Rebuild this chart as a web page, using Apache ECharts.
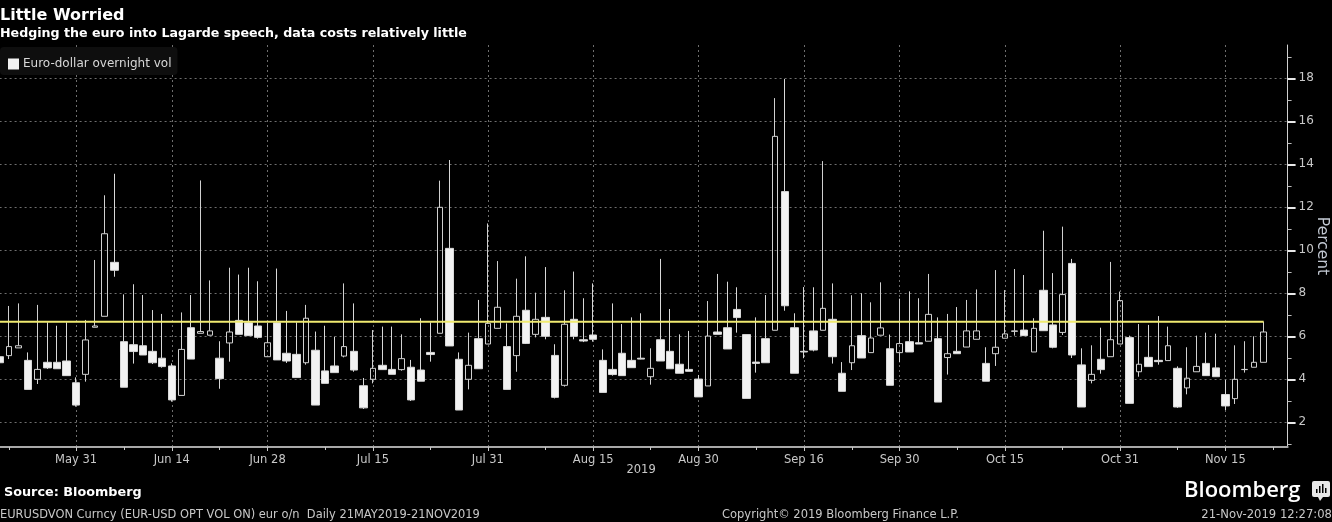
<!DOCTYPE html>
<html><head><meta charset="utf-8">
<style>html,body{margin:0;padding:0;background:#000;overflow:hidden}#c{width:1332px;height:522px}</style>
<script src="https://cdn.jsdelivr.net/npm/echarts@6/dist/echarts.min.js"></script>
</head><body><div id="c"></div>
<script>
const seriesName = 'Euro-dollar overnight vol';
const opens = [
5.05,5.10,5.46,4.88,4.00,4.79,4.79,4.85,3.84,4.23,
6.42,6.93,9.44,5.75,5.61,5.56,5.30,4.98,4.62,3.25,
6.40,6.14,6.05,4.98,5.69,6.74,6.63,6.48,5.05,6.63,
5.21,5.16,4.77,5.35,4.39,4.62,5.08,5.30,3.70,4.00,
4.65,4.46,4.45,4.56,4.43,5.25,6.14,10.09,4.93,4.00,
5.89,5.64,6.37,5.52,5.10,7.21,6.09,6.88,5.11,3.72,
6.79,5.84,6.06,4.88,4.46,5.21,4.88,4.98,4.12,5.84,
5.30,4.70,4.46,4.01,3.69,6.20,6.40,7.25,6.08,4.80,
5.89,6.28,12.73,6.40,5.30,6.25,6.28,6.79,4.28,4.77,
6.03,5.24,6.05,5.42,5.24,5.75,5.70,5.77,5.89,5.01,
5.30,5.50,5.86,4.74,5.19,5.91,6.23,6.29,5.27,8.14,
6.53,6.18,9.39,4.67,3.95,4.93,5.05,5.64,5.94,4.35,
5.02,4.88,4.87,4.51,3.60,4.35,4.74,4.53,3.29,3.10,
4.45,4.56,4.79];
const closes = [
4.77,5.52,5.56,3.53,4.46,4.53,4.49,4.17,2.80,5.83,
6.48,10.77,9.07,3.63,5.29,5.13,4.77,4.59,3.04,5.39,
4.94,6.22,6.25,4.03,6.20,6.09,6.03,5.95,5.70,4.90,
4.85,4.08,6.84,2.80,3.81,4.31,5.52,4.43,2.67,4.51,
4.45,4.23,4.96,3.04,3.91,5.15,12.00,5.55,2.57,4.65,
4.49,6.60,7.35,3.53,6.93,5.67,6.79,6.00,3.16,6.56,
6.00,5.78,5.86,3.39,4.22,4.17,4.54,4.94,4.51,4.85,
4.49,4.28,4.37,3.18,6.01,6.09,5.41,6.87,3.11,4.74,
4.77,15.30,7.42,4.28,5.27,5.36,7.30,5.05,3.44,5.56,
4.99,5.92,6.39,3.72,5.66,5.27,5.64,7.02,2.94,5.19,
5.19,6.25,6.25,3.91,5.49,6.11,6.25,6.03,6.37,6.26,
5.49,7.94,5.13,2.71,4.23,4.45,5.84,7.66,2.88,4.70,
4.59,4.82,5.56,2.71,4.05,4.60,4.17,4.12,2.76,4.00,
4.46,4.79,6.20];
const highs = [
5.05,7.41,7.53,5.25,7.46,6.65,6.49,6.65,4.09,6.76,
9.55,12.56,13.56,7.95,8.42,7.92,7.22,7.04,4.74,7.11,
7.92,13.25,8.60,5.77,9.19,8.87,9.19,8.56,6.63,9.15,
7.18,6.65,7.46,6.22,6.49,5.98,8.46,7.53,4.06,6.29,
6.45,6.45,6.09,4.90,6.84,6.65,13.24,14.20,5.25,6.17,
7.69,11.25,9.50,6.60,8.68,9.72,8.03,9.22,5.63,8.14,
9.01,7.77,8.46,5.39,7.53,6.57,6.88,7.07,5.44,9.60,
7.27,6.09,6.25,4.20,7.64,8.90,8.54,8.28,6.08,6.88,
7.92,17.08,17.97,7.07,8.29,8.28,14.15,8.46,4.80,7.91,
8.00,7.58,8.51,6.08,7.75,8.09,7.77,8.90,6.88,7.04,
7.36,7.69,8.18,5.49,9.08,8.15,9.13,8.85,6.84,10.91,
8.94,11.10,9.60,5.44,5.58,6.40,9.46,8.08,6.03,6.57,
6.53,6.94,6.45,4.60,5.49,6.03,6.17,6.12,3.97,5.58,
5.77,6.00,6.68];
const lows = [
4.77,4.94,5.46,3.53,3.78,4.48,4.49,4.17,2.73,3.89,
6.42,6.93,8.77,3.63,4.73,5.13,4.71,4.54,2.96,3.25,
4.94,6.14,6.05,3.56,4.82,6.09,6.03,5.89,5.05,4.90,
4.76,4.08,4.68,2.80,3.81,4.31,5.02,4.35,2.62,3.81,
4.45,4.23,4.40,2.99,3.91,4.82,6.14,5.55,2.57,3.53,
4.49,5.64,6.37,3.53,4.35,5.64,5.95,5.86,3.11,3.66,
5.86,5.73,5.75,3.39,4.17,4.17,4.54,4.93,3.75,4.85,
4.49,4.28,4.37,3.18,3.69,6.09,5.41,6.17,3.11,4.31,
4.77,6.28,7.19,4.28,4.98,5.30,6.28,4.73,3.44,4.43,
4.99,5.24,6.05,3.72,4.79,5.27,5.64,5.77,2.94,4.22,
5.19,5.50,5.86,3.91,4.62,5.91,6.03,6.03,5.27,6.26,
5.44,6.06,4.99,2.71,3.81,4.26,5.05,5.64,2.88,4.12,
4.59,4.68,4.87,2.67,3.30,4.35,4.17,4.12,2.57,2.85,
4.31,4.56,4.79];
const tickDates = ['May 31','Jun 14','Jun 28','Jul 15','Jul 31','Aug 15','Aug 30','Sep 16','Sep 30','Oct 15','Oct 31','Nov 15'];
const midTickIndexes = [1,13,23,34,45,57,68,79,89,100,111,123,133];
const yMajor = [2,4,6,8,10,12,14,16,18];
const yMinor = [1,3,5,7,9,11,13,15,17,19];
const lastLevel = 6.68;

// weekdays from 21 May 2019 to 21 Nov 2019, plus two empty slots at the right
const monthNames = ['Jan','Feb','Mar','Apr','May','Jun','Jul','Aug','Sep','Oct','Nov','Dec'];
const categories = [];
for (let t = Date.UTC(2019,4,21); categories.length < 135; t += 86400000) {
  const d = new Date(t);
  if (d.getUTCDay() === 0 || d.getUTCDay() === 6) continue;
  categories.push(monthNames[d.getUTCMonth()] + ' ' + d.getUTCDate());
}
const row = i => [opens[i], closes[i], lows[i], highs[i]];
const filled = opens.map((o,i) => closes[i] > o ? '-' : row(i));
const hollow = opens.map((o,i) => closes[i] > o ? row(i) : '-');
const levelLine = opens.map(() => lastLevel);

const FONT = '"DejaVu Sans"';
const isMajor = (idx, val) => tickDates.includes(val);
const txt = (x, y, text, size, fill, weight, align) => ({
  type:'text', x, y, silent:true,
  style:{text, fontSize:size, fill, fontFamily:FONT, fontWeight:weight||'normal', align:align||'left', verticalAlign:'middle'}
});
const chart = echarts.init(document.getElementById('c'), null, {width:1332, height:522, renderer:'canvas'});
chart.setOption({
  animation:false,
  backgroundColor:'#000',
  grid:{left:-5.4, top:45, width:1293, height:402, outerBoundsMode:'none', containLabel:false},
  legend:{
    show:true, left:0, top:47, padding:[11,6,5,8], backgroundColor:'#0e0e0e', borderRadius:4,
    data:[{name:seriesName, icon:'rect', itemStyle:{color:'#f2f2f2', borderWidth:0}}],
    itemWidth:11, itemHeight:11, itemGap:0,
    selectedMode:false,
    textStyle:{color:'#d8d8d8', fontFamily:FONT, fontSize:12, padding:[0,0,0,-1]}
  },
  xAxis:[
    {type:'category', data:categories, boundaryGap:true, position:'bottom',
     name:'2019', nameLocation:'middle', nameGap:17, nameMoveOverlap:false,
     nameTextStyle:{color:'#c8c8c8', fontFamily:FONT, fontSize:11.5},
     axisLine:{show:true, lineStyle:{color:'#a8a8a8', width:2}},
     axisTick:{show:true, alignWithLabel:true, interval:isMajor, length:4, lineStyle:{color:'#c8c8c8', width:1}},
     axisLabel:{show:true, interval:isMajor, color:'#c8c8c8', fontFamily:FONT, fontSize:11.5, margin:7, hideOverlap:false},
     splitLine:{show:true, alignWithLabel:true, interval:isMajor, lineStyle:{color:'#6e6e6e', type:[2,3], width:1}}},
    {type:'category', data:categories, boundaryGap:true, position:'bottom',
     axisLine:{show:false},
     axisTick:{show:true, alignWithLabel:true, interval:(i)=>midTickIndexes.includes(i), length:3, lineStyle:{color:'#c8c8c8', width:1}},
     axisLabel:{show:false}, splitLine:{show:false}}
  ],
  yAxis:[
    {type:'value', min:0.85, max:19.55, position:'right', scale:true,
     name:'Percent', nameLocation:'middle', nameGap:26, nameRotate:-90, nameMoveOverlap:false,
     nameTextStyle:{color:'#c2c8d2', fontFamily:FONT, fontSize:15.5},
     axisLine:{show:true, lineStyle:{color:'#d0d0d0', width:1}},
     axisTick:{show:true, length:8, customValues:yMajor, lineStyle:{color:'#e8e8e8', width:2}},
     axisLabel:{show:true, customValues:yMajor, color:'#c8c8c8', fontFamily:FONT, fontSize:12, margin:11},
     splitLine:{show:true, lineStyle:{color:'#6e6e6e', type:[2,3], width:1}}},
    {type:'value', min:0.85, max:19.55, position:'right',
     axisLine:{show:false},
     axisTick:{show:true, length:4, customValues:yMinor, lineStyle:{color:'#bbbbbb', width:1}},
     axisLabel:{show:false}, splitLine:{show:false}}
  ],
  series:[
    {name:seriesName, type:'candlestick', data:filled, barWidth:8, clip:false,
     itemStyle:{color:'#f2f2f2', color0:'#f2f2f2', borderColor:'#d8d8d8', borderColor0:'#d8d8d8', borderColorDoji:'#d8d8d8', borderWidth:1}, z:3},
    {name:'Up days', type:'candlestick', data:hollow, barWidth:6, clip:false,
     itemStyle:{color:'rgba(0,0,0,0)', color0:'rgba(0,0,0,0)', borderColor:'#d0d0d0', borderColor0:'#d0d0d0', borderWidth:1}, z:3},
    {name:'Level', type:'line', data:levelLine, symbol:'none', silent:true, clip:false,
     lineStyle:{color:'#f0ea70', width:2}, z:5}
  ],
  graphic:{elements:[
    txt(0,16,'Little Worried',16,'#ffffff','bold'),
    txt(0,34,'Hedging the euro into Lagarde speech, data costs relatively little',12.65,'#ffffff','bold'),
    txt(4,493,'Source: Bloomberg',12.8,'#ffffff','bold'),
    txt(0,515,'EURUSDVON Curncy (EUR-USD OPT VOL ON) eur o/n  Daily 21MAY2019-21NOV2019',11.45,'#c8c8c8'),
    txt(722,515,'Copyright\u00a9 2019 Bloomberg Finance L.P.',11.5,'#c8c8c8'),
    txt(1332,515,'21-Nov-2019 12:27:08',11.6,'#c8c8c8','normal','right'),
    {type:'text', x:1184, y:491, silent:true, style:{text:'Bloomberg', fontSize:22, fill:'#ffffff', fontFamily:'"Open Sans"', fontWeight:600, verticalAlign:'middle'}},
    {type:'rect', shape:{x:1312,y:481,width:18,height:16,r:2}, style:{fill:'#e8e8e8'}, silent:true},
    {type:'polygon', shape:{points:[[1318,497],[1323,497],[1320,501]]}, style:{fill:'#e8e8e8'}, silent:true},
    {type:'rect', shape:{x:1316,y:489,width:1.5,height:4}, style:{fill:'#000'}, silent:true},
    {type:'rect', shape:{x:1319,y:486,width:1.5,height:7}, style:{fill:'#000'}, silent:true},
    {type:'rect', shape:{x:1322,y:484,width:1.5,height:9}, style:{fill:'#000'}, silent:true},
    {type:'rect', shape:{x:1325,y:488,width:1.5,height:5}, style:{fill:'#000'}, silent:true}
  ]}
});
</script></body></html>
